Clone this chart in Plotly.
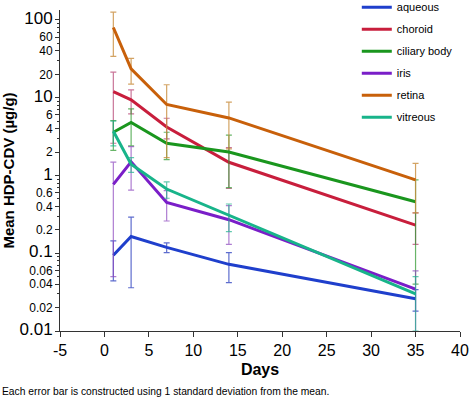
import plotly.graph_objects as go

days = [1, 3, 7, 14, 35]

tissues = ["aqueous", "choroid", "ciliary body", "iris", "retina", "vitreous"]

aqueous = [0.094, 0.164, 0.119, 0.072, 0.026]
aqueous_sd = [0.05, 0.128, 0.017, 0.03, 0.008]

choroid = [12.0, 9.4, 4.2, 1.48, 0.23]
choroid_sd = [9.4, 3.2, 1.25, 0.8, 0.1]

ciliary = [3.6, 4.8, 2.6, 2.0, 0.46]
ciliary_sd = [1.5, 2.4, 1.0, 1.3, 0.42]

iris = [0.77, 1.5, 0.45, 0.27, 0.0345]
iris_sd = [0.72, 0.85, 0.19, 0.14, 0.025]

retina = [80.0, 23.5, 8.2, 5.5, 0.88]
retina_sd = [46.0, 8.5, 6.5, 3.3, 0.55]

vitreous = [3.7, 1.4, 0.67, 0.31, 0.030]
vitreous_sd = [1.3, 0.3, 0.16, 0.12, 0.02]

values = [aqueous, choroid, ciliary, iris, retina, vitreous]
sds = [aqueous_sd, choroid_sd, ciliary_sd, iris_sd, retina_sd, vitreous_sd]

colors = ["#1f3fcc", "#c81e3c", "#1a961e", "#7a1ec8", "#c8600a", "#18b48a"]
err_colors = ["rgba(40,60,190,0.75)", "rgba(180,60,110,0.7)", "rgba(40,150,40,0.7)",
              "rgba(140,70,190,0.7)", "rgba(200,140,60,0.8)", "rgba(30,180,140,0.7)"]

x_ticks = list(range(-5, 41, 5))
x_labels = [str(t) for t in x_ticks]

y_ticks = [0.01, 0.02, 0.04, 0.06, 0.1, 0.2, 0.4, 0.6, 1, 2, 4, 6, 10, 20, 40, 60, 100]
y_labels = ["0.01", "0.02", "0.04", "0.06", "0.1", "0.2", "0.4", "0.6", "1",
            "2", "4", "6", "10", "20", "40", "60", "100"]
decades = {"0.01", "0.1", "1", "10", "100"}
y_text = [f'<span style="font-size:17px">{t}</span>' if t in decades else t for t in y_labels]

FONT = "Arial, Liberation Sans, sans-serif"

fig = go.Figure()
for name, v, s, c, ec in zip(tissues, values, sds, colors, err_colors):
    fig.add_trace(go.Scatter(
        x=days, y=v, name=name, mode="lines", legendgroup=name,
        line=dict(color=c, width=3),
        error_y=dict(type="data", array=s, visible=True, color=ec, thickness=1.2, width=3),
    ))

fig.update_layout(
    width=472, height=400,
    margin=dict(l=59.5, r=11.5, t=10, b=69, autoexpand=False),
    paper_bgcolor="white", plot_bgcolor="white",
    font=dict(family=FONT, color="black"),
    showlegend=True,
    legend=dict(x=0.742, y=1.054, xanchor="left", yanchor="top",
                font=dict(size=11, family=FONT), tracegroupgap=3,
                bgcolor="rgba(0,0,0,0)", itemwidth=30),
    xaxis=dict(range=[-5, 40], tickmode="array", tickvals=x_ticks, ticktext=x_labels,
               showgrid=False, zeroline=False, showline=True, linecolor="#333", linewidth=1,
               ticks="outside", ticklen=5, tickcolor="#333",
               tickfont=dict(size=16, family=FONT),
               title=dict(text="<b>Days</b>", font=dict(size=16, family=FONT), standoff=5)),
    yaxis=dict(type="log", range=[-2, 2.1285], tickmode="array", tickvals=y_ticks, ticktext=y_text,
               showgrid=False, zeroline=False, showline=True, linecolor="#333", linewidth=1,
               ticks="outside", ticklen=4, tickcolor="#333",
               tickfont=dict(size=12, family=FONT),
               minor=dict(ticks="outside", ticklen=2, dtick="D1", tickcolor="#333"),
               title=dict(text="<b>Mean HDP-CDV (µg/g)</b>", font=dict(size=15, family=FONT), standoff=8)),
    annotations=[dict(text="Each error bar is constructed using 1 standard deviation from the mean.",
                      xref="paper", yref="paper", x=-0.15, y=-0.19, xanchor="left", yanchor="middle",
                      showarrow=False, font=dict(size=10.3, family=FONT))],
)

fig.write_html("out.html", config={"displayModeBar": False},
               post_script="document.body.style.margin='0px';")
